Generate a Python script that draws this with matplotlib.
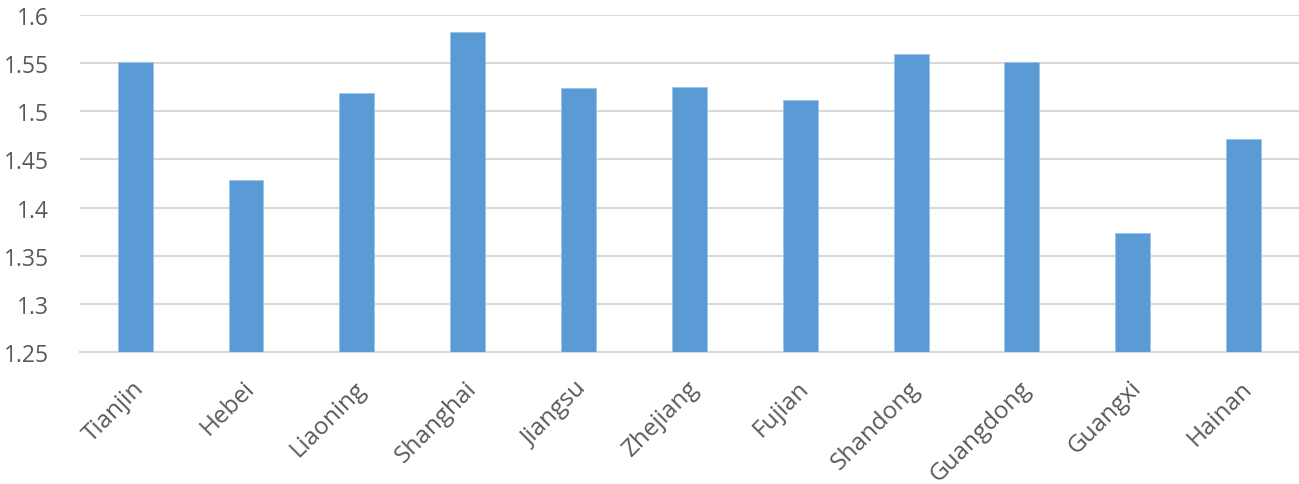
import matplotlib.pyplot as plt
from matplotlib.transforms import ScaledTranslation

# provinces and values
provinces = ["Tianjin", "Hebei", "Liaoning", "Shanghai", "Jiangsu", "Zhejiang",
             "Fujian", "Shandong", "Guangdong", "Guangxi", "Hainan"]
values = [1.551, 1.429, 1.519, 1.582, 1.524, 1.525, 1.512, 1.559, 1.551, 1.374, 1.471]
y_ticks = [1.25, 1.3, 1.35, 1.4, 1.45, 1.5, 1.55, 1.6]
y_labels = ["1.25", "1.3", "1.35", "1.4", "1.45", "1.5", "1.55", "1.6"]

plt.rcParams["font.family"] = ["Open Sans", "DejaVu Sans"]

fig = plt.figure(figsize=(12.99, 4.85), dpi=100)
ax = fig.add_axes([0.0614, 0.272, 0.9386, 0.695])

x = range(len(provinces))
ax.bar(x, values, width=0.315, color="#5B9BD5", edgecolor="#9DC3E6", linewidth=0.6, zorder=3)

ax.set_ylim(1.25, 1.6)
ax.set_xlim(-0.5, len(provinces) - 0.5)
ax.set_yticks(y_ticks)
ax.set_yticklabels(y_labels)
ax.set_xticks(list(x))
ax.set_xticklabels(provinces, rotation=45, ha="right", rotation_mode="anchor")

ax.grid(axis="y", color="#D9D9D9", linewidth=1.5, zorder=0)
ax.tick_params(axis="both", length=0, colors="#595959")
ax.tick_params(axis="y", pad=22, labelsize=16.5)
ax.tick_params(axis="x", pad=17, labelsize=17.5)

# small nudge of the rotated labels to line up with the original
shift = ScaledTranslation(-3 / 100, 0, fig.dpi_scale_trans)
for lab in ax.get_xticklabels():
    lab.set_transform(lab.get_transform() + shift)

for side in ["top", "right", "left"]:
    ax.spines[side].set_visible(False)
ax.spines["bottom"].set_color("#D9D9D9")
ax.spines["bottom"].set_linewidth(1.5)

fig.savefig("out.png", dpi=100)
